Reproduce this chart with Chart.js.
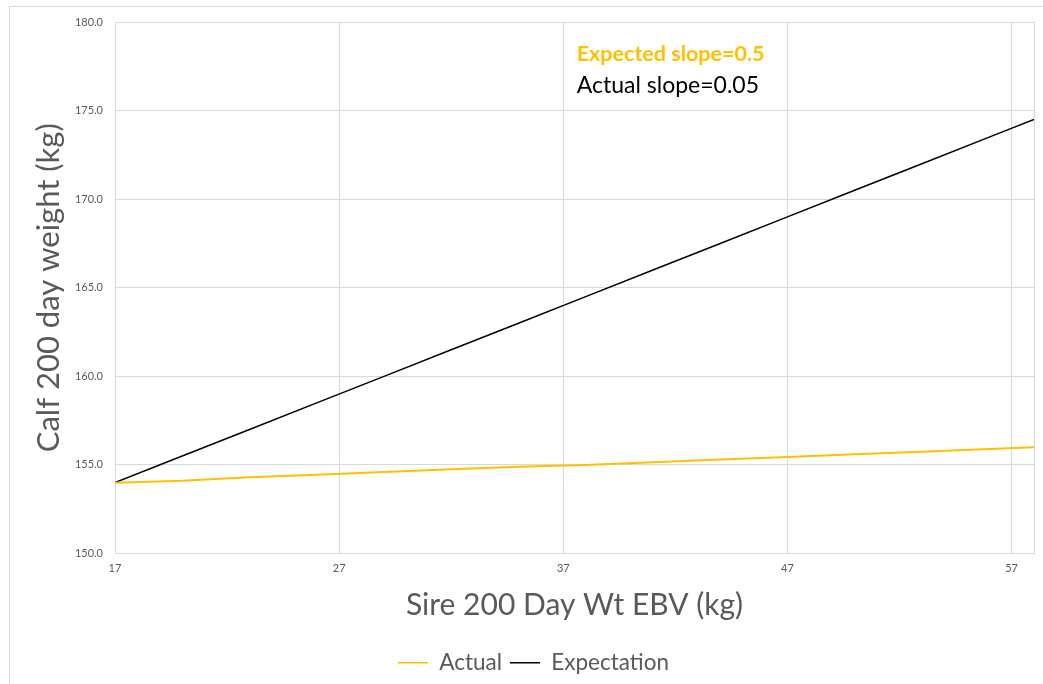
<!DOCTYPE html>
<html>
<head>
<meta charset="utf-8">
<script src="https://cdn.jsdelivr.net/npm/chart.js@4"></script>
<style>
  body { margin: 0; background: #fff; }
  #wrap { position: relative; width: 1043px; height: 684px; }
  #frame { position: absolute; left: 9px; top: 6px; right: -5px; bottom: -5px; border-left: 1px solid #d9d9d9; border-top: 1px solid #d9d9d9; }
  canvas { position: absolute; left: 0; top: 0; }
</style>
</head>
<body>
<div id="wrap">
  <div id="frame"></div>
  <canvas id="chart" width="1043" height="684"></canvas>
</div>
<script>
// sire EBV (x) and calf weights
var sireEbv = [17, 20, 23, 26, 29, 32, 35, 38, 41, 44, 47, 50, 53, 56, 58];
var actualWt = [154.0, 154.1, 154.3, 154.45, 154.6, 154.75, 154.9, 155.0, 155.15, 155.3, 155.45, 155.6, 155.75, 155.9, 156.0];
var expectedWt = [154.0, 155.5, 157.0, 158.5, 160.0, 161.5, 163.0, 164.5, 166.0, 167.5, 169.0, 170.5, 172.0, 173.5, 174.5];
var xTicks = [17, 27, 37, 47, 57, 58];
var yTicks = [150, 155, 160, 165, 170, 175, 180];

var FONT = "Lato, 'Open Sans', sans-serif";
var GREY = '#595959';
var GRID = '#d9d9d9';

function toPoints(xs, ys) {
  var pts = [];
  for (var i = 0; i < xs.length; i++) pts.push({ x: xs[i], y: ys[i] });
  return pts;
}

// the two slope notes in the upper part of the plot
var slopeNotes = {
  id: 'slopeNotes',
  afterDatasetsDraw: function (chart) {
    var ctx = chart.ctx;
    var xs = chart.scales.x, ys = chart.scales.y;
    ctx.save();
    ctx.textAlign = 'left';
    ctx.textBaseline = 'middle';
    ctx.font = "bold 21.5px " + FONT;
    ctx.fillStyle = '#FFC000';
    ctx.fillText('Expected slope=0.5', xs.getPixelForValue(37.6), ys.getPixelForValue(178.2));
    ctx.font = "23px " + FONT;
    ctx.fillStyle = '#000000';
    ctx.fillText('Actual slope=0.05', xs.getPixelForValue(37.6), ys.getPixelForValue(176.4));
    ctx.restore();
  }
};

new Chart(document.getElementById('chart'), {
  type: 'line',
  data: {
    datasets: [{
      label: 'Actual',
      data: toPoints(sireEbv, actualWt),
      borderColor: '#FFC000',
      backgroundColor: '#FFC000',
      borderWidth: 2,
      pointRadius: 0,
      tension: 0
    }, {
      label: 'Expectation',
      data: toPoints(sireEbv, expectedWt),
      borderColor: '#000000',
      backgroundColor: '#000000',
      borderWidth: 1.5,
      pointRadius: 0,
      tension: 0
    }]
  },
  options: {
    responsive: false,
    animation: false,
    layout: { padding: { left: 33, right: 9, top: 22, bottom: 0 } },
    plugins: {
      legend: {
        position: 'bottom',
        labels: {
          boxWidth: 30,
          boxHeight: 1.5,
          padding: 8,
          color: GREY,
          font: { family: FONT, size: 22.5 },
          generateLabels: function (chart) {
            var items = Chart.defaults.plugins.legend.labels.generateLabels(chart);
            items.forEach(function (it) { it.lineWidth = 0; });
            return items;
          }
        }
      },
      tooltip: { enabled: false }
    },
    scales: {
      x: {
        type: 'linear',
        min: 17,
        max: 58,
        afterBuildTicks: function (scale) {
          scale.ticks = xTicks.map(function (v) { return { value: v }; });
        },
        afterFit: function (scale) { scale.height = 90; },
        ticks: {
          color: GREY,
          padding: 8,
          maxRotation: 0,
          font: { family: FONT, size: 11 },
          callback: function (v) { return v === 58 ? '' : String(v); }
        },
        grid: { color: GRID, drawTicks: false },
        border: { color: GRID },
        title: {
          display: true,
          text: 'Sire 200 Day Wt EBV (kg)',
          color: GREY,
          font: { family: FONT, size: 30 },
          padding: { top: 0, bottom: 20 }
        }
      },
      y: {
        min: 150,
        max: 180,
        afterBuildTicks: function (scale) {
          scale.ticks = yTicks.map(function (v) { return { value: v }; });
        },
        afterFit: function (scale) { scale.width = 82; },
        ticks: {
          color: GREY,
          padding: 12,
          font: { family: FONT, size: 11 },
          callback: function (v) { return Number(v).toFixed(1); }
        },
        grid: { color: GRID, drawTicks: false },
        border: { color: GRID },
        title: {
          display: true,
          text: 'Calf 200 day weight (kg)',
          color: GREY,
          font: { family: FONT, size: 31, lineHeight: 1 },
          padding: { top: 0, bottom: 0 }
        }
      }
    }
  },
  plugins: [slopeNotes]
});
</script>
</body>
</html>
